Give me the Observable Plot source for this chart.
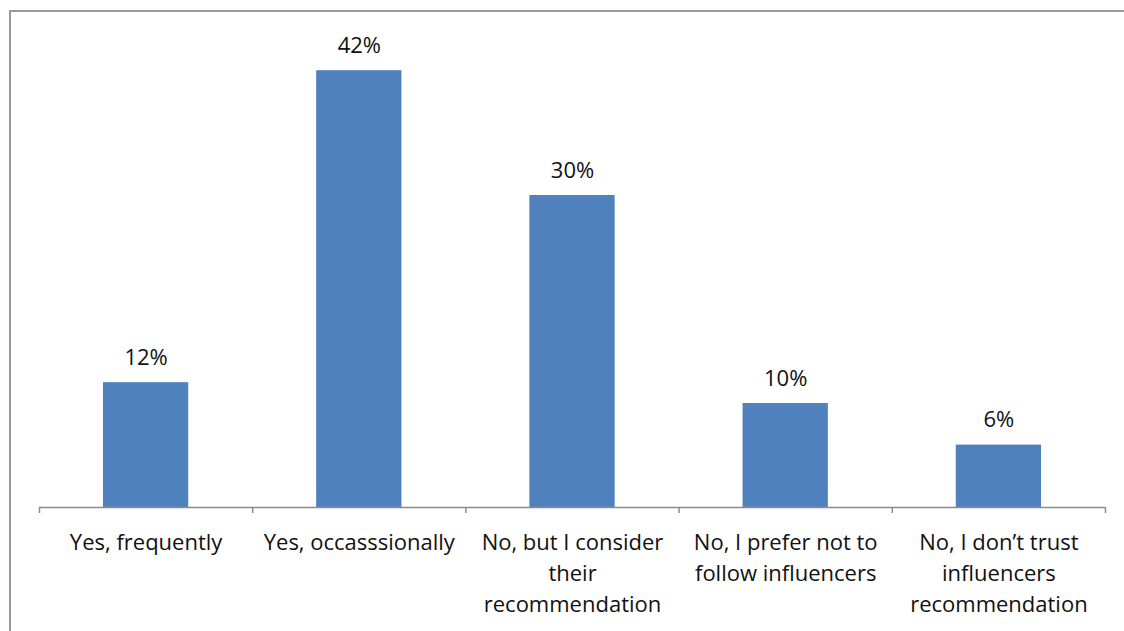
<!DOCTYPE html>
<html>
<head>
<meta charset="utf-8">
<script src="https://cdn.jsdelivr.net/npm/d3@7"></script>
<script src="https://cdn.jsdelivr.net/npm/@observablehq/plot@0.6"></script>
<style>
  html, body { margin: 0; padding: 0; background: #fff; }
  #wrap { position: relative; width: 1124px; height: 631px; overflow: hidden; }
  #frame {
    position: absolute; left: 9px; top: 10px; width: 1200px; height: 700px;
    border-left: 2px solid #9a9a9a; border-top: 2px solid #9a9a9a;
    box-sizing: border-box; pointer-events: none;
  }
</style>
</head>
<body>
<div id="wrap"><div id="frame"></div></div>
<script>
// Survey answers and their shares (percent)
const categories = [
  "Yes, frequently",
  "Yes, occasssionally",
  "No, but I consider their recommendation",
  "No, I prefer not to follow influencers",
  "No, I don’t trust influencers recommendation"
];
const shares = [12, 42, 30, 10, 6];
// Wrapped axis labels, one entry per category
const tickLabels = [
  "Yes, frequently",
  "Yes, occasssionally",
  "No, but I consider\ntheir\nrecommendation",
  "No, I prefer not to\nfollow influencers",
  "No, I don’t trust\ninfluencers\nrecommendation"
];

const data = categories.map((c, i) => ({category: c, index: i, share: shares[i]}));
const boundaries = d3.range(categories.length + 1);
const centers = categories.map((c, i) => i + 0.5);

const blue = "#4f81bd";
const font = "'Open Sans', Lato, sans-serif";

const chart = Plot.plot({
  width: 1124,
  height: 631,
  marginLeft: 39,
  marginRight: 19,
  marginTop: 39,
  marginBottom: 124,
  style: {fontFamily: font, background: "transparent", color: "#111"},
  x: {domain: [0, categories.length], axis: null},
  y: {domain: [0, 45], axis: null},
  marks: [
    Plot.rectY(data, {
      x1: d => d.index + 0.3,
      x2: d => d.index + 0.7,
      y: "share",
      fill: blue
    }),
    Plot.ruleY([0], {stroke: "#8c8c8c", strokeWidth: 1.5}),
    // tick marks at the category boundaries
    Plot.axisX(boundaries, {
      tickSize: 6, tickFormat: () => "", stroke: "#8c8c8c", strokeWidth: 1.5
    }),
    // category labels
    Plot.axisX(centers, {
      tickSize: 0,
      tickPadding: 20,
      tickFormat: (d) => tickLabels[Math.floor(d)],
      fontSize: 22,
      lineHeight: 1.42,
      fill: "#111",
      textOverflow: null
    }),
    Plot.text(data, {
      x: d => d.index + 0.5,
      y: "share",
      text: d => d.share + "%",
      lineAnchor: "bottom",
      dy: -18,
      fontSize: 22,
      fill: "#111"
    })
  ]
});

document.getElementById("wrap").prepend(chart);
</script>
</body>
</html>
